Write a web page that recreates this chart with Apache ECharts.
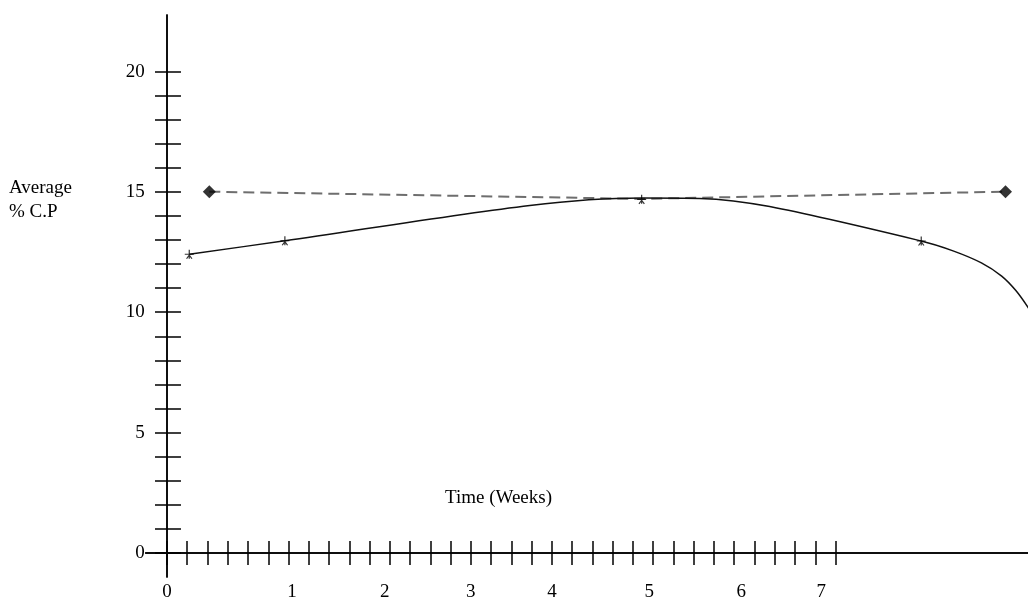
<!DOCTYPE html>
<html>
<head>
<meta charset="utf-8">
<script src="https://cdn.jsdelivr.net/npm/echarts@6/dist/echarts.min.js"></script>
<style>
html,body{margin:0;padding:0;background:#fff;}
#chart{width:1028px;height:601px;}
</style>
</head>
<body>
<div id="chart"></div>
<script>
// X axis unit = one minor tick (weeks are labelled at irregular tick positions, as in the picture)
var xTickPositions = [];
for (var t = 0; t <= 33; t++) xTickPositions.push(t);
var xTickLabels = ['0', '1', '2', '3', '4', '5', '6', '7'];
var xLabelPositions = [0, 6.17, 10.75, 15.0, 19.0, 23.8, 28.35, 32.3];

var yTickPositions = [];
for (var u = 0; u <= 20; u++) yTickPositions.push(u);
var yTickLabels = [0, 5, 10, 15, 20];

// solid curve
var curveX = [1.10, 5.82, 17.91, 23.43, 26.3, 29.75, 37.23, 38.8, 40.2, 41.2, 41.9, 42.5, 43.0];
var curveY = [12.41, 12.97, 14.44, 14.75, 14.73, 14.39, 12.96, 12.55, 12.05, 11.5, 10.9, 10.2, 9.5];
// star markers on the solid curve
var starX = [1.10, 5.82, 23.43, 37.23];
var starY = [12.41, 12.97, 14.69, 12.96];
// dashed line
var dashX = [2.09, 23.43, 41.39];
var dashY = [15.01, 14.71, 15.01];
// diamonds on dashed line ends
var diamondX = [2.09, 41.39];
var diamondY = [15.01, 15.01];

function pairs(xs, ys) { return xs.map(function (x, i) { return [x, ys[i]]; }); }

var FONT = '"Liberation Serif", "DejaVu Serif", serif';
var chart = echarts.init(document.getElementById('chart'));

var xCommon = {
  type: 'value', min: -1.05, max: 42.5,
  splitLine: { show: false },
  axisLine: { onZero: true, lineStyle: { color: '#000', width: 1.5 } }
};
var yCommon = {
  type: 'value', min: -1, max: 22.35,
  splitLine: { show: false },
  axisLine: { onZero: true, lineStyle: { color: '#000', width: 1.5 } }
};

chart.setOption({
  backgroundColor: '#fff',
  animation: false,
  grid: { left: 145.7, right: 0, top: 15, bottom: 24, containLabel: false, outerBoundsMode: 'none' },
  xAxis: [
    Object.assign({}, xCommon, {
      position: 'bottom',
      axisTick: { show: true, inside: false, length: 12, customValues: xTickPositions, lineStyle: { color: '#000', width: 1.5 } },
      axisLabel: {
        show: true, margin: 6, customValues: xLabelPositions,
        color: '#000', fontFamily: FONT, fontSize: 19,
        formatter: function (v) {
          var i = xLabelPositions.indexOf(v);
          return i >= 0 ? xTickLabels[i] : '';
        }
      }
    }),
    Object.assign({}, xCommon, {
      position: 'bottom',
      axisTick: { show: true, inside: true, length: 12, customValues: xTickPositions, lineStyle: { color: '#000', width: 1.5 } },
      axisLabel: { show: false }
    })
  ],
  yAxis: [
    Object.assign({}, yCommon, {
      position: 'left',
      axisTick: { show: true, inside: false, length: 12, customValues: yTickPositions, lineStyle: { color: '#000', width: 1.5 } },
      axisLabel: {
        show: true, margin: 1, customValues: yTickLabels,
        color: '#000', fontFamily: FONT, fontSize: 19
      }
    }),
    Object.assign({}, yCommon, {
      position: 'left',
      axisTick: { show: true, inside: true, length: 14, customValues: yTickPositions, lineStyle: { color: '#000', width: 1.5 } },
      axisLabel: { show: false }
    })
  ],
  series: [
    {
      type: 'line', xAxisIndex: 0, yAxisIndex: 0,
      data: pairs(dashX, dashY),
      showSymbol: false, symbol: 'none',
      lineStyle: { color: '#6e6e6e', width: 2, type: [11, 6] },
      z: 2
    },
    {
      type: 'line', xAxisIndex: 0, yAxisIndex: 0,
      data: pairs(curveX, curveY),
      showSymbol: false, symbol: 'none', smooth: 0.3,
      lineStyle: { color: '#111', width: 1.5 },
      z: 3
    },
    {
      type: 'scatter', xAxisIndex: 0, yAxisIndex: 0,
      data: pairs(starX, starY),
      symbol: 'path://M0,-5L0,5M-5,0L5,0M0,1L-3,5M0,1L3,5',
      symbolSize: 9,
      itemStyle: { color: 'rgba(0,0,0,0)', borderColor: '#000', borderWidth: 1.2 },
      z: 4
    },
    {
      type: 'scatter', xAxisIndex: 0, yAxisIndex: 0,
      data: pairs(diamondX, diamondY),
      symbol: 'diamond', symbolSize: 13,
      itemStyle: { color: '#000' },
      z: 4
    }
  ],
  graphic: [
    { type: 'text', left: 9, top: 179, style: { text: 'Average', font: '19px ' + FONT, fill: '#000' } },
    { type: 'text', left: 9, top: 203, style: { text: '% C.P', font: '19px ' + FONT, fill: '#000' } },
    { type: 'text', left: 445, top: 489, style: { text: 'Time (Weeks)', font: '19px ' + FONT, fill: '#000' } }
  ]
});
</script>
</body>
</html>
